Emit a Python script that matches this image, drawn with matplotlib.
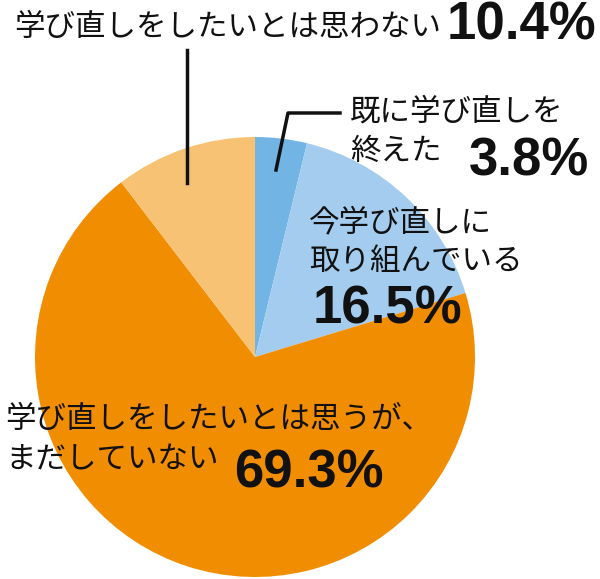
import matplotlib
matplotlib.use("Agg")
import matplotlib.pyplot as plt

# Data (clockwise from 12 o'clock)
labels = ["既に学び直しを\n終えた", "今学び直しに\n取り組んでいる",
          "学び直しをしたいとは思うが、\nまだしていない", "学び直しをしたいとは思わない"]
values = [3.8, 16.5, 69.3, 10.4]
pct_text = ["3.8%", "16.5%", "69.3%", "10.4%"]
colors = ["#72B4E3", "#A3CCEE", "#F18D00", "#F8C275"]

H = 579
jp_font = ["Noto Sans CJK JP", "DejaVu Sans"]
num_font = "Liberation Sans"


def Y(y):
    # pixel row from the top -> data y
    return H - y


fig = plt.figure(figsize=(6, 5.79), dpi=100)
ax = fig.add_axes([0, 0, 1, 1])
ax.pie(values, colors=colors, startangle=90, counterclock=False,
       center=(255, Y(357)), radius=220,
       wedgeprops=dict(linewidth=0))
ax.set_xlim(0, 600)
ax.set_ylim(0, H)
ax.set_aspect("equal")
ax.axis("off")

# category labels
label_pos = [(350, [112, 151]), (309, [223, 262]), (5, [420, 460]), (14, [27])]
for lab, (x, ys) in zip(labels, label_pos):
    for line, y in zip(lab.split("\n"), ys):
        ax.text(x, Y(y), line, fontsize=22, family=jp_font,
                ha="left", va="center", color="#111111")

# percentages
pct_pos = [(469, 162), (313, 309), (234, 474), (447, 25)]
for t, (x, y) in zip(pct_text, pct_pos):
    ax.text(x, Y(y), t, fontsize=38, family=num_font, fontweight="bold",
            ha="left", va="center", color="#111111")

# leader lines
ax.plot([340, 288, 276], [Y(113), Y(113), Y(170)], color="#111111", lw=2.5)
ax.plot([187, 187], [Y(50), Y(183)], color="#111111", lw=2.5)

fig.savefig("out.png", dpi=100)
